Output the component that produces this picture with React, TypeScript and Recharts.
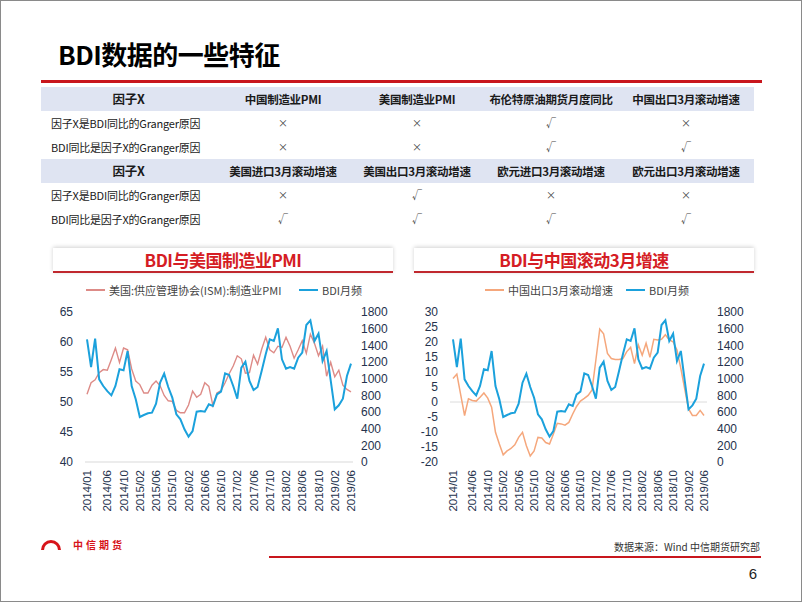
import React from "react";
import { LineChart, Line, XAxis, YAxis, ReferenceLine } from "recharts";

// 2014/01 .. 2019/06 monthly categories
const MONTHS: string[] = [];
for (let y = 2014; y <= 2019; y++) {
  for (let m = 1; m <= 12; m++) {
    if (y === 2019 && m > 6) break;
    MONTHS.push(`${y}/${String(m).padStart(2, "0")}`);
  }
}

const TICK_LABELS = [
  "2014/01", "2014/06", "2014/10", "2015/02", "2015/06", "2015/10", "2016/02", "2016/06",
  "2016/10", "2017/02", "2017/06", "2017/10", "2018/02", "2018/06", "2018/10", "2019/02", "2019/06",
];

const US_PMI = [
  51.3, 53.2, 53.7, 54.9, 55.4, 55.3, 57.1, 59.0, 56.6, 59.0, 58.7, 55.5,
  53.5, 52.9, 51.5, 51.5, 52.8, 53.5, 52.7, 51.1, 50.2, 50.1, 48.6, 48.2,
  48.2, 49.5, 51.8, 50.8, 51.3, 53.2, 52.6, 49.4, 51.5, 51.9, 53.2, 54.7,
  56.0, 57.7, 57.2, 54.8, 54.9, 57.8, 56.3, 58.8, 60.8, 58.7, 58.2, 59.3,
  59.1, 60.8, 59.3, 57.3, 58.7, 60.2, 58.1, 61.3, 59.8, 57.7, 59.3, 54.3,
  56.6, 54.2, 55.3, 52.8, 52.1, 51.7,
];

const BDI = [
  1472, 1140, 1480, 992, 912, 850, 800, 912, 1112, 1100, 1332, 912,
  752, 540, 564, 584, 592, 700, 952, 1060, 900, 772, 572, 512,
  392, 304, 372, 604, 612, 604, 692, 672, 812, 844, 1064, 1044,
  912, 760, 1132, 1204, 972, 864, 900, 1092, 1292, 1472, 1452, 1604,
  1232, 1120, 1140, 1120, 1252, 1312, 1644, 1700, 1452, 1540, 1212, 1332,
  980, 632, 680, 760, 1032, 1180,
];

const CN_EXPORT_3M = [
  7.8, 9.3, 2.4, -4.5, 1.1, 0.5, 0.3, 1.6, 3.0, 1.3, -1.7, -10.1,
  -14.0, -17.6, -16.3, -15.5, -14.3, -11.8, -10.1, -14.6, -18.0, -16.3, -11.8, -12.0,
  -13.5, -14.0, -10.7, -7.1, -7.3, -7.7, -6.8, -4.0, -1.5, 0.3, 1.2, 2.2,
  4.0, 14.0, 24.3, 22.7, 16.2, 14.5, 14.2, 14.2, 14.5, 16.8, 18.2, 12.8,
  19.0, 15.6, 19.6, 14.9, 20.9, 20.7, 20.9, 22.4, 20.7, 20.1, 17.3, 11.2,
  4.4, -2.3, -4.5, -4.5, -2.8, -4.5,
];

const PMI_TICKS = [40, 45, 50, 55, 60, 65];
const EXPORT_TICKS = [-20, -15, -10, -5, 0, 5, 10, 15, 20, 25, 30];
const BDI_TICKS = [0, 200, 400, 600, 800, 1000, 1200, 1400, 1600, 1800];

const TABLE_HEAD_1 = ["因子X", "中国制造业PMI", "美国制造业PMI", "布伦特原油期货月度同比", "中国出口3月滚动增速"];
const TABLE_HEAD_2 = ["因子X", "美国进口3月滚动增速", "美国出口3月滚动增速", "欧元进口3月滚动增速", "欧元出口3月滚动增速"];
const ROW_A = "因子X是BDI同比的Granger原因";
const ROW_B = "BDI同比是因子X的Granger原因";
const MARKS_1A = ["×", "×", "√", "×"];
const MARKS_1B = ["×", "×", "√", "√"];
const MARKS_2A = ["×", "√", "×", "×"];
const MARKS_2B = ["√", "√", "√", "√"];

const RED = "#c8161d";
const BLUE = "#1ba1dc";
const PINK = "#dd8b87";
const ORANGE = "#f5a77c";
const AXIS_TEXT = "#25324d";
const CJK = '"Noto Sans CJK SC", "Noto Sans", sans-serif';
const LATIN = '"Liberation Sans", Arial, sans-serif';

const COL_W = [175, 134, 134, 134, 136];

const pmiData = MONTHS.map((m, i) => ({ month: m, pmi: US_PMI[i], bdi: BDI[i] }));
const exportData = MONTHS.map((m, i) => ({ month: m, exp: CN_EXPORT_3M[i], bdi: BDI[i] }));

function MonthTick(props: any) {
  const { x, y, payload } = props;
  if (!TICK_LABELS.includes(payload.value)) return <g />;
  return (
    <g transform={`translate(${x},${y})`}>
      <text transform="rotate(-90)" textAnchor="end" dy={4} fontSize={11.5} fill={AXIS_TEXT} fontFamily={LATIN}>
        {payload.value}
      </text>
    </g>
  );
}

function TableRow({ cells, header }: { cells: string[]; header?: boolean }) {
  return (
    <div style={{ display: "flex", height: 24, background: header ? "#dfe4f2" : "#fff" }}>
      {cells.map((c, i) => (
        <div
          key={i}
          style={{
            width: COL_W[i],
            lineHeight: "24px",
            textAlign: !header && i === 0 ? "left" : "center",
            paddingLeft: !header && i === 0 ? 10 : 0,
            boxSizing: "border-box",
            fontSize: header ? (i === 0 ? 12.5 : 11.5) : i === 0 ? 11 : 10,
            fontWeight: header ? 700 : 400,
            color: i === 0 || header ? "#1a1a1a" : "#444",
            whiteSpace: "nowrap",
            letterSpacing: header ? -0.3 : -0.2,
          }}
        >
          {c}
        </div>
      ))}
    </div>
  );
}

function PanelTitle({ left, width, text }: { left: number; width: number; text: string }) {
  return (
    <div
      style={{
        position: "absolute",
        left,
        top: 247,
        width,
        height: 23,
        background: "#fff",
        boxShadow: "0 -1px 4px rgba(0,0,0,0.18)",
        borderBottom: "2px solid #c0282e",
        textAlign: "center",
        lineHeight: "24px",
        fontSize: 17,
        fontWeight: 700,
        color: "#d51d24",
        fontFamily: CJK,
        letterSpacing: -0.5,
      }}
    >
      {text}
    </div>
  );
}

function LegendItem({ left, color, text }: { left: number; color: string; text: string }) {
  return (
    <div style={{ position: "absolute", left, top: 281, display: "flex", alignItems: "center", fontSize: 11, color: "#444", fontFamily: CJK }}>
      <div style={{ width: 19, height: 1.5, background: color, marginRight: 4 }} />
      <span>{text}</span>
    </div>
  );
}

export default function App() {
  return (
    <div
      style={{
        position: "absolute",
        left: 0,
        top: 0,
        width: 802,
        height: 602,
        background: "#fff",
        border: "1px solid #8a8a8a",
        boxSizing: "border-box",
        overflow: "hidden",
        fontFamily: CJK,
      }}
    >
      <div style={{ position: "absolute", left: 57, top: 36, fontSize: 26, fontWeight: 700, color: "#000", letterSpacing: -0.5, lineHeight: "34px" }}>
        BDI数据的一些特征
      </div>
      <div style={{ position: "absolute", left: 40, top: 79, width: 721, height: 3, background: RED }} />

      <div style={{ position: "absolute", left: 40, top: 86, width: 713 }}>
        <TableRow header cells={TABLE_HEAD_1} />
        <TableRow cells={[ROW_A, ...MARKS_1A]} />
        <TableRow cells={[ROW_B, ...MARKS_1B]} />
        <TableRow header cells={TABLE_HEAD_2} />
        <TableRow cells={[ROW_A, ...MARKS_2A]} />
        <TableRow cells={[ROW_B, ...MARKS_2B]} />
      </div>

      <PanelTitle left={52} width={340} text="BDI与美国制造业PMI" />
      <PanelTitle left={413} width={340} text="BDI与中国滚动3月增速" />

      <LegendItem left={85} color={PINK} text="美国:供应管理协会(ISM):制造业PMI" />
      <LegendItem left={298} color={BLUE} text="BDI月频" />
      <LegendItem left={484} color={ORANGE} text="中国出口3月滚动增速" />
      <LegendItem left={625} color={BLUE} text="BDI月频" />

      <div style={{ position: "absolute", left: 30, top: 300 }}>
        <LineChart width={370} height={230} data={pmiData} margin={{ top: 11, right: 0, bottom: 19, left: 0 }}>
          <XAxis
            dataKey="month"
            interval={0}
            tick={<MonthTick />}
            tickLine={false}
            axisLine={{ stroke: "#d9d9d9" }}
            height={50}
            padding={{ left: 2, right: 2 }}
          />
          <YAxis
            yAxisId="l"
            domain={[40, 65]}
            ticks={PMI_TICKS}
            interval={0}
            width={54}
            tickMargin={6}
            axisLine={false}
            tickLine={false}
            tick={{ fontSize: 12, fill: AXIS_TEXT, fontFamily: LATIN }}
          />
          <YAxis
            yAxisId="r"
            orientation="right"
            domain={[0, 1800]}
            ticks={BDI_TICKS}
            interval={0}
            width={48}
            axisLine={false}
            tickLine={false}
            tick={{ fontSize: 12, fill: AXIS_TEXT, fontFamily: LATIN, textAnchor: "start" }}
          />
          <Line yAxisId="l" dataKey="pmi" stroke={PINK} strokeWidth={1.4} dot={false} isAnimationActive={false} />
          <Line yAxisId="r" dataKey="bdi" stroke={BLUE} strokeWidth={2} dot={false} isAnimationActive={false} />
        </LineChart>
      </div>

      <div style={{ position: "absolute", left: 405, top: 300 }}>
        <LineChart width={390} height={230} data={exportData} margin={{ top: 11, right: 0, bottom: 19, left: 0 }}>
          <XAxis
            dataKey="month"
            interval={0}
            tick={<MonthTick />}
            tickLine={false}
            axisLine={false}
            height={50}
            padding={{ left: 3, right: 3 }}
          />
          <YAxis
            yAxisId="l"
            domain={[-20, 30]}
            ticks={EXPORT_TICKS}
            interval={0}
            width={44}
            tickMargin={6}
            axisLine={false}
            tickLine={false}
            tick={{ fontSize: 12, fill: AXIS_TEXT, fontFamily: LATIN }}
          />
          <YAxis
            yAxisId="r"
            orientation="right"
            domain={[0, 1800]}
            ticks={BDI_TICKS}
            interval={0}
            width={89}
            tickMargin={4}
            axisLine={false}
            tickLine={false}
            tick={{ fontSize: 12, fill: AXIS_TEXT, fontFamily: LATIN, textAnchor: "start" }}
          />
          <ReferenceLine yAxisId="l" y={0} stroke="#dcdcdc" strokeWidth={1} />
          <Line yAxisId="l" dataKey="exp" stroke={ORANGE} strokeWidth={1.5} dot={false} isAnimationActive={false} />
          <Line yAxisId="r" dataKey="bdi" stroke={BLUE} strokeWidth={2} dot={false} isAnimationActive={false} />
        </LineChart>
      </div>

      <div style={{ position: "absolute", left: 40, top: 538, display: "flex", alignItems: "center" }}>
        <div style={{ width: 20, height: 10, borderRadius: "10px 10px 0 0", border: "3px solid #d7141a", borderBottom: "none", boxSizing: "border-box" }} />
        <div style={{ marginLeft: 12, fontSize: 10, fontWeight: 700, color: "#d7141a", letterSpacing: 3, lineHeight: "12px" }}>
          中信期货
        </div>
      </div>
      <div style={{ position: "absolute", right: 41, top: 538, fontSize: 10, color: "#333", whiteSpace: "nowrap" }}>
        数据来源：Wind 中信期货研究部
      </div>
      <div style={{ position: "absolute", left: 268, top: 555, width: 492, height: 2, background: RED }} />
      <div style={{ position: "absolute", right: 44, top: 564, fontSize: 15, color: "#222", fontFamily: LATIN }}>6</div>
    </div>
  );
}
